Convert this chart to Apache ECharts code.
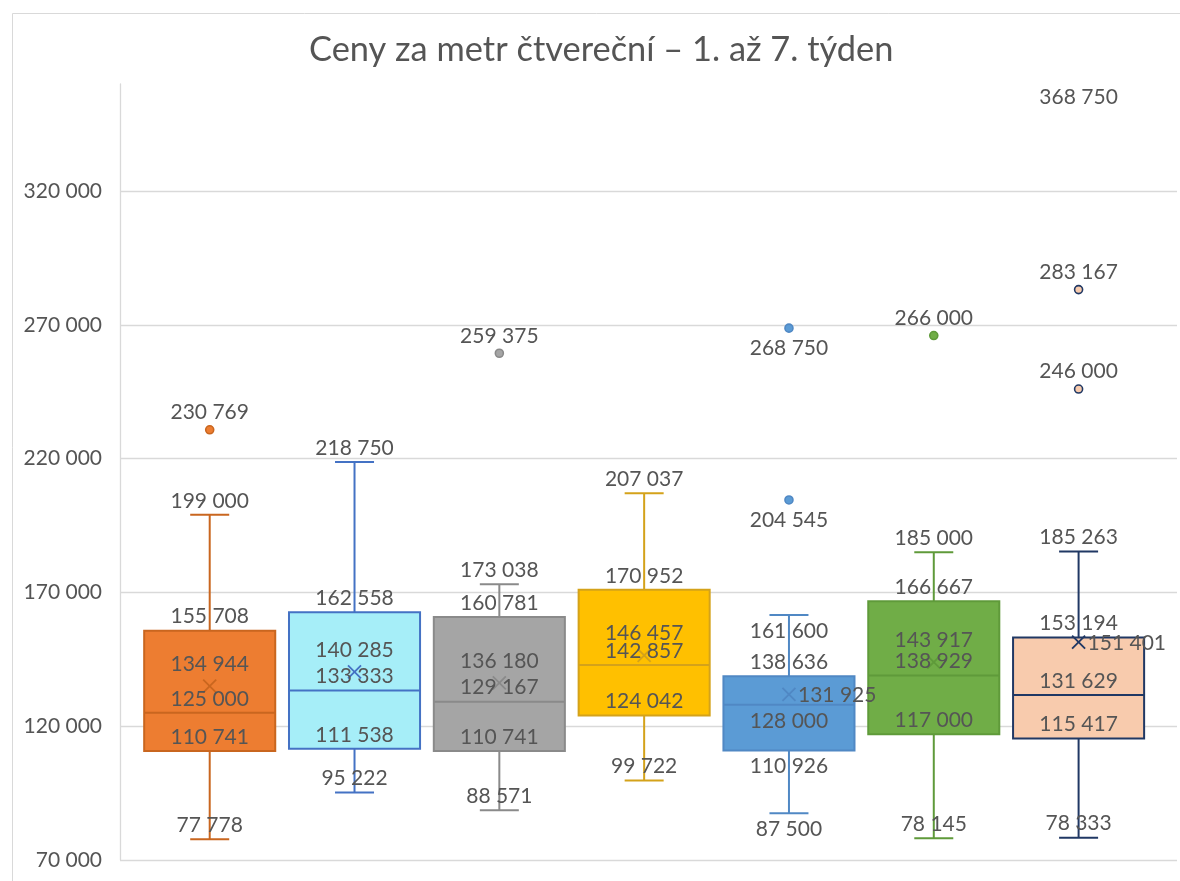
<!DOCTYPE html>
<html>
<head>
<meta charset="utf-8">
<script src="https://cdn.jsdelivr.net/npm/echarts@6/dist/echarts.min.js"></script>
<style>html,body{margin:0;padding:0;background:#fff;}#chart{width:1180px;height:881px;}</style>
</head>
<body>
<div id="chart"></div>
<script>
// ---- data ----
const title = 'Ceny za metr čtvereční – 1. až 7. týden';
const categories = ['1. týden', '2. týden', '3. týden', '4. týden', '5. týden', '6. týden', '7. týden'];
const minValues    = [77778, 95222, 88571, 99722, 87500, 78145, 78333];
const q1Values     = [110741, 111538, 110741, 124042, 110926, 117000, 115417];
const medianValues = [125000, 133333, 129167, 142857, 128000, 138929, 131629];
const q3Values     = [155708, 162558, 160781, 170952, 138636, 166667, 153194];
const maxValues    = [199000, 218750, 173038, 207037, 161600, 185000, 185263];
const meanValues   = [134944, 140285, 136180, 146457, 131925, 143917, 151401];
const outlierValues = [[230769], [], [259375], [], [268750, 204545], [266000], [368750, 283167, 246000]];
const yAxisMin = 70000;
const yAxisMax = 360000;
const yAxisInterval = 50000;

// ---- styles ----
const boxStyles = [
  { fill: '#ED7D31', line: '#C9661F' },
  { fill: '#A6EEF8', line: '#4472C4' },
  { fill: '#A5A5A5', line: '#8A8A8A' },
  { fill: '#FFC000', line: '#D4A21A' },
  { fill: '#5B9BD5', line: '#5088C4' },
  { fill: '#70AD47', line: '#5F9A3A' },
  { fill: '#F8CBAD', line: '#203864' }
];
// label placement (default: above)
const labelPlacement = {
  4: { max: 'below', median: 'below', q1: 'below', min: 'below', mean: 'right' },
  6: { mean: 'right' }
};
const outlierPlacement = { 4: 'below' };

const textColor = '#555555';
const fontFamily = 'Lato, "Open Sans", sans-serif';
const labelFont = '21px ' + fontFamily;
const lineW = 2;

function fmt(v) { return String(v).replace(/\B(?=(\d{3})+(?!\d))/g, ' '); }

const boxData = categories.map((c, i) => [i, minValues[i], q1Values[i], medianValues[i], q3Values[i], maxValues[i], meanValues[i]]);
const outlierData = [];
outlierValues.forEach((arr, i) => arr.forEach(v => outlierData.push([i, v])));

function renderBox(params, api) {
  const i = api.value(0);
  const mn = api.value(1), q1 = api.value(2), md = api.value(3), q3 = api.value(4), mx = api.value(5), mean = api.value(6);
  const y = v => api.coord([i, v])[1];
  const cx = api.coord([i, md])[0];
  const band = api.size([1, 0])[0];
  const half = band * 0.905 / 2;
  const cap = 19.5;
  const st = boxStyles[i];
  const ls = { stroke: st.line, lineWidth: lineW };
  const m = 6.5, ym = y(mean);
  return {
    type: 'group',
    children: [
      { type: 'line', shape: { x1: cx, y1: y(q3), x2: cx, y2: y(mx) }, style: ls },
      { type: 'line', shape: { x1: cx, y1: y(q1), x2: cx, y2: y(mn) }, style: ls },
      { type: 'line', shape: { x1: cx - cap, y1: y(mx), x2: cx + cap, y2: y(mx) }, style: ls },
      { type: 'line', shape: { x1: cx - cap, y1: y(mn), x2: cx + cap, y2: y(mn) }, style: ls },
      { type: 'rect', shape: { x: cx - half, y: y(q3), width: half * 2, height: y(q1) - y(q3) },
        style: { fill: st.fill, stroke: st.line, lineWidth: lineW } },
      { type: 'line', shape: { x1: cx - half, y1: y(md), x2: cx + half, y2: y(md) }, style: ls },
      { type: 'line', shape: { x1: cx - m, y1: ym - m, x2: cx + m, y2: ym + m }, style: { stroke: st.line, lineWidth: 1.8 } },
      { type: 'line', shape: { x1: cx - m, y1: ym + m, x2: cx + m, y2: ym - m }, style: { stroke: st.line, lineWidth: 1.8 } }
    ]
  };
}

function textEl(x, y, text, align) {
  return { type: 'text', x: x, y: y,
    style: { text: text, fill: textColor, font: labelFont, align: align, verticalAlign: 'middle', textAlign: align, textVerticalAlign: 'middle' } };
}

function renderLabels(params, api) {
  const i = api.value(0);
  const keys = ['min', 'q1', 'median', 'q3', 'max', 'mean'];
  const cx = api.coord([i, api.value(3)])[0];
  const place = labelPlacement[i] || {};
  const children = [];
  keys.forEach((k, j) => {
    const v = api.value(j + 1);
    const py = api.coord([i, v])[1];
    const p = place[k] || 'above';
    if (p === 'right') {
      children.push(textEl(cx + 9, py + 1, fmt(v), 'left'));
    } else if (p === 'below') {
      children.push(textEl(cx, py + 16, fmt(v), 'center'));
    } else {
      children.push(textEl(cx, py - (k === 'mean' ? 22 : 14), fmt(v), 'center'));
    }
  });
  return { type: 'group', children: children };
}

function renderOutlier(params, api) {
  const i = api.value(0), v = api.value(1);
  const p = api.coord([i, v]);
  const cs = params.coordSys;
  const st = boxStyles[i];
  const children = [];
  if (p[1] >= cs.y) {
    children.push({ type: 'circle', shape: { cx: p[0], cy: p[1], r: 4 },
      style: { fill: st.fill, stroke: st.line, lineWidth: 1.6 } });
  }
  let ly = outlierPlacement[i] === 'below' ? p[1] + 20.5 : p[1] - 17.5;
  ly = Math.max(ly, cs.y + 13);
  children.push(textEl(p[0], ly, fmt(v), 'center'));
  return { type: 'group', children: children };
}

const chart = echarts.init(document.getElementById('chart'), null, { renderer: 'canvas' });
const gridTop = 84, gridBottom = 21;
chart.setOption({
  animation: false,
  backgroundColor: '#ffffff',
  title: {
    text: title, left: 304, top: 28,
    textStyle: { color: textColor, fontFamily: fontFamily, fontSize: 34.4, fontWeight: 'normal' }
  },
  graphic: [{
    type: 'rect', left: 10, top: 11, z: -10,
    shape: { x: 0, y: 0, width: 1200, height: 900 },
    style: { fill: 'none', stroke: '#d9d9d9', lineWidth: 1 }
  }],
  grid: [
    { left: 120, right: 3, top: gridTop, bottom: gridBottom },
    { left: 137.3, right: 29, top: gridTop, bottom: gridBottom }
  ],
  xAxis: [
    { gridIndex: 0, type: 'value', min: 0, max: 1, show: false },
    { gridIndex: 1, type: 'category', data: categories, show: false }
  ],
  yAxis: [
    { gridIndex: 0, type: 'value', min: yAxisMin, max: yAxisMax, interval: yAxisInterval,
      axisLine: { show: true, lineStyle: { color: '#d9d9d9', width: 1.3 } },
      axisTick: { show: false },
      splitLine: { show: true, showMaxLine: false, lineStyle: { color: '#d9d9d9', width: 1.3 } },
      axisLabel: { color: textColor, fontFamily: fontFamily, fontSize: 21, margin: 18, showMaxLabel: false,
        formatter: v => fmt(v) } },
    { gridIndex: 1, type: 'value', min: yAxisMin, max: yAxisMax, show: false, splitLine: { show: false } }
  ],
  series: [
    { type: 'custom', name: 'box', xAxisIndex: 1, yAxisIndex: 1, data: boxData, renderItem: renderBox, z: 2, silent: true },
    { type: 'custom', name: 'outliers', xAxisIndex: 1, yAxisIndex: 1, data: outlierData, renderItem: renderOutlier, z: 4, silent: true },
    { type: 'custom', name: 'labels', xAxisIndex: 1, yAxisIndex: 1, data: boxData, renderItem: renderLabels, z: 5, silent: true }
  ]
});
</script>
</body>
</html>
